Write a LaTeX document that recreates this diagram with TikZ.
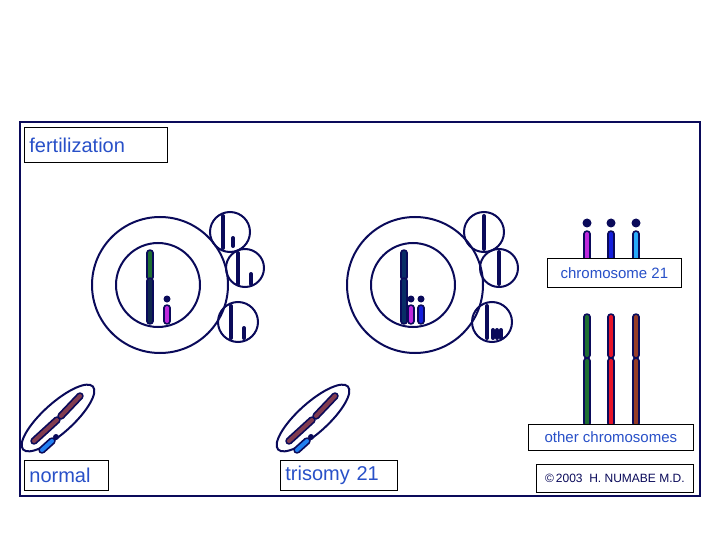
\documentclass[tikz,border=0pt]{standalone}
\usepackage{fontspec}
\setmainfont{Liberation Sans}
\definecolor{navy}{RGB}{10,10,90}
\definecolor{txtblue}{RGB}{40,80,200}
\definecolor{chrbrown}{RGB}{150,60,40}
\definecolor{chrgreen}{RGB}{30,110,50}
\definecolor{chrmag}{RGB}{190,40,220}
\definecolor{chrblue}{RGB}{20,30,220}
\definecolor{chrsky}{RGB}{40,170,250}
\definecolor{chrred}{RGB}{230,20,40}
\definecolor{chrwine}{RGB}{130,60,80}
\tikzset{
  cellline/.style={draw=navy, line width=2},
  labelbox/.style={draw=black, line width=0.8, fill=white, text=txtblue, font=\fontsize{20}{22}\selectfont, inner sep=4pt},
}
% chromosome: from, to, colour
\newcommand{\chrom}[3]{%
  \draw[navy, line width=7.5, line cap=round] #1 -- #2;
  \draw[#3, line width=4, line cap=round] #1 -- #2;}
\newcommand{\pbar}[2]{\draw[navy, line width=4, line cap=round] #1 -- #2;}
\begin{document}
\begin{tikzpicture}[x=1pt,y=-1pt]
\useasboundingbox (0,0) rectangle (720,540);
\fill[white] (0,0) rectangle (720,540);

%frame
\draw[navy, line width=2.5] (20,122) rectangle (700,496);

%left egg
\draw[cellline] (160,285) circle (68);
\draw[cellline] (158,285) circle (42);
\chrom{(150,253)}{(150,277)}{chrgreen}
\chrom{(150,281)}{(150,321)}{navy!70!chrgreen}
\chrom{(167,308)}{(167,321)}{chrmag}
\fill[navy] (167,299) circle (3.5);
%polar bodies
\draw[cellline] (230,232) circle (20);
\pbar{(223,216)}{(223,248)} \pbar{(233,238)}{(233,246)}
\draw[cellline] (245,268) circle (19);
\pbar{(238,253)}{(238,284)} \pbar{(251,274)}{(251,284)}
\draw[cellline] (238,322) circle (20);
\pbar{(231,306)}{(231,338)} \pbar{(244,328)}{(244,338)}

%right egg
\draw[cellline] (415,285) circle (68);
\draw[cellline] (413,285) circle (42);
\chrom{(404,253)}{(404,277)}{navy!70!teal}
\chrom{(404,281)}{(404,321)}{navy!70!teal}
\chrom{(411,308)}{(411,321)}{chrmag}
\fill[navy] (411,299) circle (3.5);
\chrom{(421,308)}{(421,321)}{chrblue}
\fill[navy] (421,299) circle (3.5);
%polar bodies
\draw[cellline] (484,232) circle (20);
\pbar{(484,216)}{(484,249)}
\draw[cellline] (499,268) circle (19);
\pbar{(499,252)}{(499,284)}
\draw[cellline] (492,322) circle (20);
\pbar{(487,306)}{(487,338)}
\pbar{(493,330)}{(493,338)} \pbar{(497,330)}{(497,338)} \pbar{(501,330)}{(501,338)}

%sperms
\foreach \sx in {0,255}{
  \begin{scope}[xshift=\sx]
  \draw[cellline] (58,418) ellipse [x radius=47, y radius=15, rotate=42];
  \chrom{(34,441)}{(57,420)}{chrwine}
  \chrom{(61,416)}{(80,396)}{chrwine}
  \chrom{(42,450)}{(52,441)}{chrsky!70!chrblue}
  \fill[navy] (56,437) circle (3);
  \end{scope}}

%legend chromosome 21
\foreach \cx/\cc in {587/chrmag,611/chrblue,636/chrsky}{
  \fill[navy] (\cx,223) circle (4.5);
  \chrom{(\cx,234)}{(\cx,260)}{\cc}}
%legend other chromosomes
\foreach \cx/\cc in {587/chrgreen,611/chrred,636/chrbrown}{
  \chrom{(\cx,317)}{(\cx,355)}{\cc}
  \chrom{(\cx,361)}{(\cx,423)}{\cc}}

%labels
\node[labelbox, anchor=north west, minimum width=143, minimum height=35, align=left, text width=133] (fert) at (24,127) {fertilization};
\node[labelbox, anchor=north west, minimum width=84, minimum height=30, text width=74] (norm) at (24,460) {normal};
\node[labelbox, anchor=north west, minimum width=117, minimum height=30, text width=107] (tris) at (280,460) {trisomy 21};
\node[labelbox, anchor=north west, minimum width=134, minimum height=29, font=\fontsize{15}{17}\selectfont] (chr21) at (547,258) {chromosome 21};
\node[labelbox, anchor=north west, minimum width=165, minimum height=26, font=\fontsize{15}{17}\selectfont] (other) at (528,424) {other chromosomes};
\node[labelbox, anchor=north west, minimum width=157, minimum height=28, text=navy, font=\fontsize{12}{14}\selectfont] (copy) at (536,464) {\textcopyright\,2003\ \ H. NUMABE M.D.};
\end{tikzpicture}
\end{document}
